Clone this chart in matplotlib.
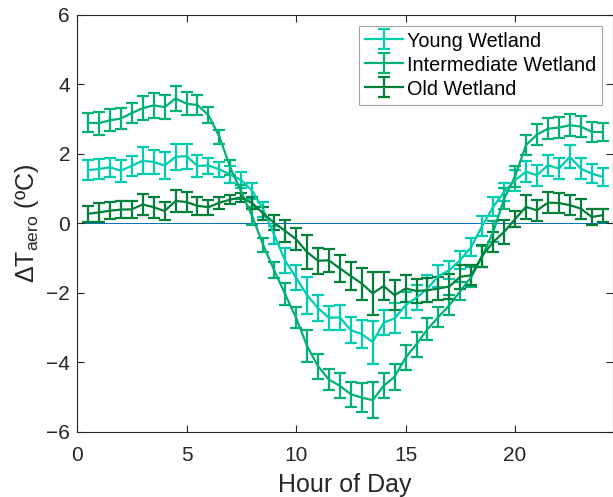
import matplotlib
matplotlib.use("Agg")
import matplotlib.pyplot as plt
from matplotlib.container import ErrorbarContainer
from matplotlib.legend_handler import HandlerErrorbar
import numpy as np

plt.rcParams["font.family"] = ["Liberation Sans", "DejaVu Sans"]
plt.rcParams["mathtext.fontset"] = "custom"
plt.rcParams["mathtext.rm"] = "Liberation Sans"
plt.rcParams["mathtext.it"] = "Liberation Sans:italic"

# half-hourly hours of the day
hours = np.arange(1, 49) * 0.5

young = [1.53, 1.56, 1.61, 1.51, 1.65, 1.80, 1.76, 1.66, 1.91, 1.93, 1.65, 1.66,
         1.55, 1.40, 1.24, 0.93, 0.40, -0.33, -1.08, -1.56, -2.07, -2.44, -2.72, -2.71,
         -3.08, -3.19, -3.42, -2.86, -2.74, -2.36, -2.14, -1.88, -1.52, -1.35, -1.06, -0.68,
         -0.08, 0.47, 0.90, 1.24, 1.48, 1.38, 1.67, 1.57, 1.91, 1.57, 1.43, 1.33]
young_err = [0.29, 0.30, 0.28, 0.31, 0.28, 0.39, 0.34, 0.39, 0.38, 0.36, 0.31, 0.23,
             0.22, 0.25, 0.24, 0.22, 0.22, 0.26, 0.36, 0.36, 0.53, 0.38, 0.34, 0.36,
             0.38, 0.41, 0.62, 0.36, 0.43, 0.38, 0.36, 0.38, 0.31, 0.25, 0.25, 0.25,
             0.28, 0.27, 0.27, 0.30, 0.30, 0.30, 0.30, 0.30, 0.33, 0.30, 0.27, 0.25]

intermediate = [2.89, 2.88, 2.96, 3.01, 3.17, 3.31, 3.39, 3.34, 3.59, 3.44, 3.40, 3.11,
                2.49, 1.60, 0.90, 0.20, -0.63, -1.35, -2.04, -2.72, -3.53, -4.11, -4.50, -4.68,
                -4.92, -5.02, -5.09, -4.68, -4.42, -3.87, -3.48, -3.05, -2.70, -2.36, -1.95, -1.55,
                -0.95, -0.25, 0.70, 1.35, 2.25, 2.55, 2.72, 2.75, 2.82, 2.78, 2.63, 2.62]
intermediate_err = [0.27, 0.33, 0.32, 0.31, 0.30, 0.35, 0.37, 0.35, 0.35, 0.34, 0.29, 0.24,
                    0.20, 0.22, 0.19, 0.26, 0.19, 0.24, 0.31, 0.31, 0.46, 0.36, 0.29, 0.36,
                    0.36, 0.41, 0.53, 0.36, 0.38, 0.36, 0.36, 0.31, 0.29, 0.29, 0.25, 0.28,
                    0.30, 0.30, 0.30, 0.30, 0.30, 0.30, 0.30, 0.30, 0.32, 0.30, 0.28, 0.25]

old = [0.27, 0.31, 0.36, 0.39, 0.40, 0.54, 0.46, 0.35, 0.64, 0.61, 0.50, 0.46,
       0.59, 0.68, 0.74, 0.58, 0.28, 0.01, -0.22, -0.46, -0.83, -1.08, -1.07, -1.30,
       -1.52, -1.74, -2.02, -1.81, -2.07, -1.88, -1.95, -1.93, -1.88, -1.82, -1.54, -1.50,
       -0.94, -0.54, -0.25, 0.12, 0.47, 0.37, 0.59, 0.58, 0.52, 0.42, 0.18, 0.23]
old_err = [0.23, 0.27, 0.25, 0.25, 0.24, 0.30, 0.30, 0.27, 0.31, 0.29, 0.26, 0.21,
           0.17, 0.14, 0.14, 0.17, 0.19, 0.22, 0.31, 0.31, 0.48, 0.38, 0.34, 0.38,
           0.41, 0.46, 0.61, 0.41, 0.43, 0.40, 0.34, 0.34, 0.34, 0.36, 0.34, 0.29,
           0.31, 0.29, 0.34, 0.22, 0.34, 0.30, 0.31, 0.30, 0.29, 0.29, 0.24, 0.19]

series = [
    ("Young Wetland", young, young_err, "#00CDAE"),
    ("Intermediate Wetland", intermediate, intermediate_err, "#00B077"),
    ("Old Wetland", old, old_err, "#00803A"),
]

fig = plt.figure(figsize=(6.13, 4.97), dpi=100)
ax = fig.add_axes([77 / 613, 65.3 / 497, 536 / 613, 417 / 497])

ax.axhline(0, color="#0072BD", linewidth=0.7, zorder=1)

for label, vals, errs, color in series:
    ax.errorbar(hours, vals, yerr=errs, color=color, linewidth=1.6,
                elinewidth=1.6, capsize=4, capthick=1.6, label=label, zorder=2)

ax.set_xlim(0, 24.47)
ax.set_ylim(-6, 6)
ax.set_xticks([0, 5, 10, 15, 20])
ax.set_yticks([-6, -4, -2, 0, 2, 4, 6])
ax.tick_params(direction="in", top=True, right=True, length=5, width=0.8,
               labelsize=15, colors="#262626")
ax.tick_params(axis="x", pad=10.5)
ax.tick_params(axis="y", pad=5)
for s in ax.spines.values():
    s.set_linewidth(0.8)
    s.set_color("#262626")

ax.set_xlabel("Hour of Day", fontsize=18, color="#262626", labelpad=5.5)
ax.set_ylabel("ΔT$_{\\mathregular{aero}}$ (ºC)", fontsize=18, color="#262626")

leg = ax.legend(loc="upper right", fontsize=14.3, frameon=True, fancybox=False,
                borderaxespad=0.55, handlelength=1.9, handleheight=1.0,
                handletextpad=0.2, borderpad=0.3, labelspacing=0.2,
                handler_map={ErrorbarContainer: HandlerErrorbar(xerr_size=0.5, yerr_size=0.5)})
leg.get_frame().set_edgecolor("#8c8c8c")
leg.get_frame().set_linewidth(0.8)

fig.savefig("out.png", dpi=100)
